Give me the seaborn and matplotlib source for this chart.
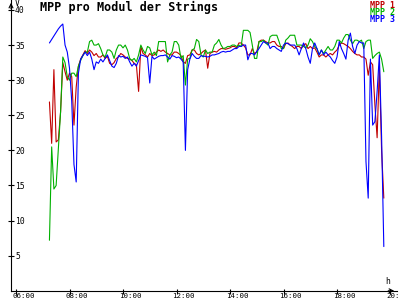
import numpy as np
import pandas as pd
import matplotlib
matplotlib.use("Agg")
import matplotlib.pyplot as plt
import matplotlib.transforms as mtransforms
import seaborn as sns

# ---------------- data ----------------
title = "MPP pro Modul der Strings"
series_names = ["MPP 1", "MPP 2", "MPP 3"]
series_colors = ["#c00000", "#00b000", "#0000ff"]
start_hour = 7.25      # first sample 07:15
step_minutes = 5       # one sample every 5 minutes

mpp1 = [26.9, 21.0, 31.5, 21.2, 21.5, 25.5, 32.5, 31.2, 30.0, 31.0,
        30.5, 23.6, 29.0, 32.0, 33.0, 33.6, 34.2, 33.8, 34.3, 34.0,
        33.5, 33.8, 33.3, 33.3, 33.6, 33.1, 33.4, 32.4, 32.2, 32.5,
        33.1, 33.3, 33.8, 33.6, 33.3, 33.1, 33.0, 32.8, 32.4, 32.2,
        28.4, 34.8, 33.8, 33.6, 33.3, 33.8, 33.5, 33.6, 34.0, 34.3,
        34.1, 34.3, 34.0, 33.8, 33.6, 33.6, 34.0, 34.0, 33.8, 33.5,
        32.6, 32.4, 33.5, 33.6, 34.3, 34.3, 33.8, 33.6, 33.8, 34.1,
        34.3, 31.7, 33.8, 34.0, 34.1, 34.0, 34.3, 34.5, 34.5, 34.4,
        34.5, 34.6, 34.8, 34.8, 34.6, 35.3, 35.3, 35.0, 34.6, 33.6,
        33.6, 34.5, 33.8, 34.0, 35.5, 35.7, 35.7, 35.5, 35.3, 35.3,
        35.5, 35.5, 35.0, 34.8, 34.8, 34.5, 35.2, 35.3, 35.0, 34.8,
        34.5, 34.8, 34.8, 34.5, 35.0, 35.2, 34.5, 34.8, 34.5, 34.6,
        34.0, 33.3, 33.6, 33.6, 33.3, 33.6, 33.8, 33.6, 34.0, 34.3,
        35.0, 35.3, 35.2, 35.0, 34.8, 34.5, 34.1, 33.8, 33.6, 33.6,
        33.3, 33.3, 33.0, 30.7, 32.6, 32.2, 26.5, 21.8, 32.0, 20.0,
        13.2]

mpp2 = [7.2, 20.5, 14.5, 15.0, 20.3, 25.5, 33.3, 32.5, 30.5, 30.0,
        31.0, 31.0, 30.5, 32.0, 32.8, 33.5, 34.0, 34.0, 35.5, 35.7,
        35.0, 35.0, 35.2, 34.5, 33.6, 33.3, 34.3, 34.3, 34.0, 33.1,
        34.3, 35.0, 35.0, 34.6, 35.0, 34.3, 33.1, 32.8, 33.1, 32.6,
        33.6, 35.0, 34.3, 33.8, 34.8, 34.6, 33.6, 34.0, 33.5, 35.5,
        35.5, 35.5, 35.5, 32.6, 33.6, 34.0, 35.5, 35.5, 35.0, 33.1,
        33.5, 29.3, 33.0, 33.1, 34.3, 34.5, 35.8, 35.5, 33.6, 33.3,
        34.3, 33.8, 34.0, 34.0, 35.0, 35.3, 35.8, 35.0, 34.5, 34.6,
        34.8, 34.8, 35.0, 35.0, 34.8, 35.0, 34.8, 37.1, 37.1, 37.1,
        36.8, 35.0, 33.1, 33.1, 35.5, 35.5, 35.7, 35.3, 35.0, 36.2,
        36.4, 36.4, 36.4, 35.5, 34.5, 34.5, 35.7, 36.0, 36.4, 36.4,
        36.4, 35.0, 35.0, 35.0, 34.8, 34.6, 35.0, 35.9, 35.5, 34.8,
        34.5, 33.6, 34.3, 33.8, 34.3, 34.8, 34.3, 34.3, 34.8, 35.7,
        35.7, 35.3, 36.0, 36.5, 36.5, 35.7, 35.2, 35.7, 35.7, 35.5,
        35.7, 34.5, 35.5, 35.7, 35.7, 33.1, 33.5, 33.8, 34.0, 33.0,
        31.2]

mpp3 = [35.3, 35.8, 36.3, 36.8, 37.3, 37.7, 38.0, 35.0, 34.0, 31.7,
        27.0, 18.0, 15.5, 31.0, 33.0, 33.5, 34.0, 33.5, 34.0, 33.0,
        31.5, 32.6, 32.4, 33.0, 32.6, 33.1, 33.6, 32.8, 32.0, 31.8,
        32.4, 33.5, 33.3, 33.4, 33.1, 33.3, 32.6, 32.0, 32.4, 32.0,
        32.8, 33.6, 33.5, 33.4, 33.2, 29.6, 33.4, 33.0, 33.2, 33.4,
        33.5, 33.5, 33.6, 33.3, 33.0, 33.5, 33.4, 33.2, 33.3, 33.0,
        32.6, 20.0, 31.5, 33.0, 33.8, 33.4, 33.1, 33.1, 33.5, 33.4,
        33.4, 33.3, 33.4, 33.6, 33.6, 33.7, 33.8, 34.0, 34.1, 34.0,
        34.1, 34.1, 34.3, 34.5, 34.5, 34.8, 34.8, 35.0, 35.0, 32.9,
        33.8, 33.8, 33.6, 34.1, 34.5, 35.0, 35.5, 35.3, 35.3, 34.5,
        34.8, 34.8, 34.5, 34.3, 34.1, 35.0, 35.3, 35.2, 35.0, 35.0,
        35.0, 34.5, 33.6, 34.5, 35.3, 34.5, 33.3, 32.4, 34.5, 35.3,
        34.5, 33.6, 34.3, 33.6, 34.0, 33.6, 33.3, 32.8, 32.4, 33.3,
        35.5, 34.5, 33.8, 33.0, 35.7, 36.7, 34.8, 33.8, 35.0, 35.5,
        35.3, 35.3, 18.4, 13.2, 33.0, 23.6, 24.1, 28.4, 33.6, 22.0,
        6.3]

x_tick_hours = [6, 8, 10, 12, 14, 16, 18, 20]
x_tick_labels = ["06:00", "08:00", "10:00", "12:00", "14:00", "16:00", "18:00", "20:00"]
y_ticks = [5, 10, 15, 20, 25, 30, 35, 40]
y_unit = "V"
x_unit = "h"

# ---------------- build table ----------------
frames = []
for name, vals in zip(series_names, [mpp1, mpp2, mpp3]):
    hours = start_hour + np.arange(len(vals)) * step_minutes / 60.0
    frames.append(pd.DataFrame({"hour": hours, "V": vals, "series": name}))
df = pd.concat(frames, ignore_index=True)

# ---------------- plot ----------------
sns.set_theme(style="white")
plt.rcParams["font.family"] = ["DejaVu Sans Mono", "DejaVu Sans"]

fig = plt.figure(figsize=(4, 3), dpi=100)
ax = fig.add_axes([11 / 400, 9.2 / 300, 386 / 400, 290.8 / 300])
ax.set_facecolor("white")

sns.lineplot(data=df, x="hour", y="V", hue="series",
             palette=dict(zip(series_names, series_colors)),
             estimator=None, sort=False, legend=False, lw=0.8, ax=ax)

ax.set_xlim(5.813, 20.243)
ax.set_ylim(0, 41.42)
ax.set_xlabel("")
ax.set_ylabel("")

for s in ["top", "right"]:
    ax.spines[s].set_visible(False)
for s in ["left", "bottom"]:
    ax.spines[s].set_color("black")
    ax.spines[s].set_linewidth(0.8)

ax.set_xticks(x_tick_hours)
ax.set_xticklabels(x_tick_labels)
ax.set_yticks(y_ticks)
ax.set_yticklabels([str(v) for v in y_ticks])

ax.tick_params(axis="x", bottom=True, direction="inout", length=3.6, width=0.8,
               color="black", labelcolor="black", labelsize=5.4, pad=-0.4)
ax.tick_params(axis="y", left=True, direction="inout", length=4.3, width=0.8,
               color="black", labelcolor="black", labelsize=5.8, pad=-5.05)

offset = mtransforms.ScaledTranslation(-4 / 100, 0, fig.dpi_scale_trans)
for lab in ax.get_xticklabels():
    lab.set_ha("left")
    lab.set_transform(lab.get_transform() + offset)
for lab in ax.get_yticklabels():
    lab.set_ha("left")

# axis arrows
ax.annotate("", xy=(0, 1.0), xycoords="axes fraction", xytext=(0, 0.96),
            arrowprops=dict(arrowstyle="->", lw=0.8, color="black", mutation_scale=7),
            annotation_clip=False)
ax.annotate("", xy=(1.0, 0), xycoords="axes fraction", xytext=(0.97, 0),
            arrowprops=dict(arrowstyle="->", lw=0.8, color="black", mutation_scale=7),
            annotation_clip=False)

# units
fig.text(15 / 400, 1 - 3 / 300, y_unit, fontsize=5.8, ha="left", va="center", color="black")
fig.text(385 / 400, 1 - 281 / 300, x_unit, fontsize=5.8, ha="left", va="center", color="black")

# title
fig.text(40 / 400, 1 - 7.5 / 300, title, fontsize=8.5, fontweight="bold",
         ha="left", va="center", color="black")

# legend (coloured labels)
for k, (name, col) in enumerate(zip(series_names, series_colors)):
    fig.text(395 / 400, 1 - (5 + 7.5 * k) / 300, name, fontsize=6, fontweight="bold",
             ha="right", va="center", color=col)

fig.savefig("out.png", dpi=100)
